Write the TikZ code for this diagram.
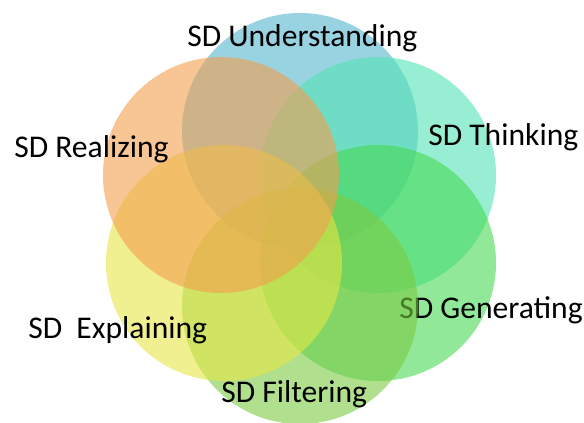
\documentclass[tikz,border=0pt]{standalone}
\usepackage{fontspec}
\setmainfont{Carlito}
\definecolor{cblue}{RGB}{85,182,207}
\definecolor{cteal}{RGB}{83,227,180}
\definecolor{cgreen}{RGB}{70,217,83}
\definecolor{clgreen}{RGB}{123,203,67}
\definecolor{cyellow}{RGB}{230,230,70}
\definecolor{corange}{RGB}{243,158,78}
\begin{document}
\begin{tikzpicture}[x=0.75pt,y=-0.75pt,
  venn/.style={circle,minimum size=177pt,inner sep=0pt,fill opacity=0.6,draw=none},
  lbl/.style={anchor=base west,inner sep=0pt,font=\fontsize{23.7}{28}\selectfont,text=black}]
\useasboundingbox (0,0) rectangle (584,422);
\node[venn,fill=cblue] (cu) at (300,131) {};
\node[lbl] (tu) at (187,46) {SD Understanding};
\node[venn,fill=cteal] (ct) at (378,175) {};
\node[lbl] (tt) at (428,145) {SD Thinking};
\node[venn,fill=cgreen] (cg) at (378,263) {};
\node[lbl] (tg) at (399,318) {SD Generating};
\node[venn,fill=clgreen] (cf) at (300,306) {};
\node[lbl] (tf) at (221,402) {SD Filtering};
\node[venn,fill=cyellow] (ce) at (224,263) {};
\node[lbl] (te) at (28,338) {SD\ \ Explaining};
\node[venn,fill=corange] (cr) at (221,175) {};
\node[lbl] (tr) at (14,157) {SD Realizing};
\end{tikzpicture}
\end{document}
